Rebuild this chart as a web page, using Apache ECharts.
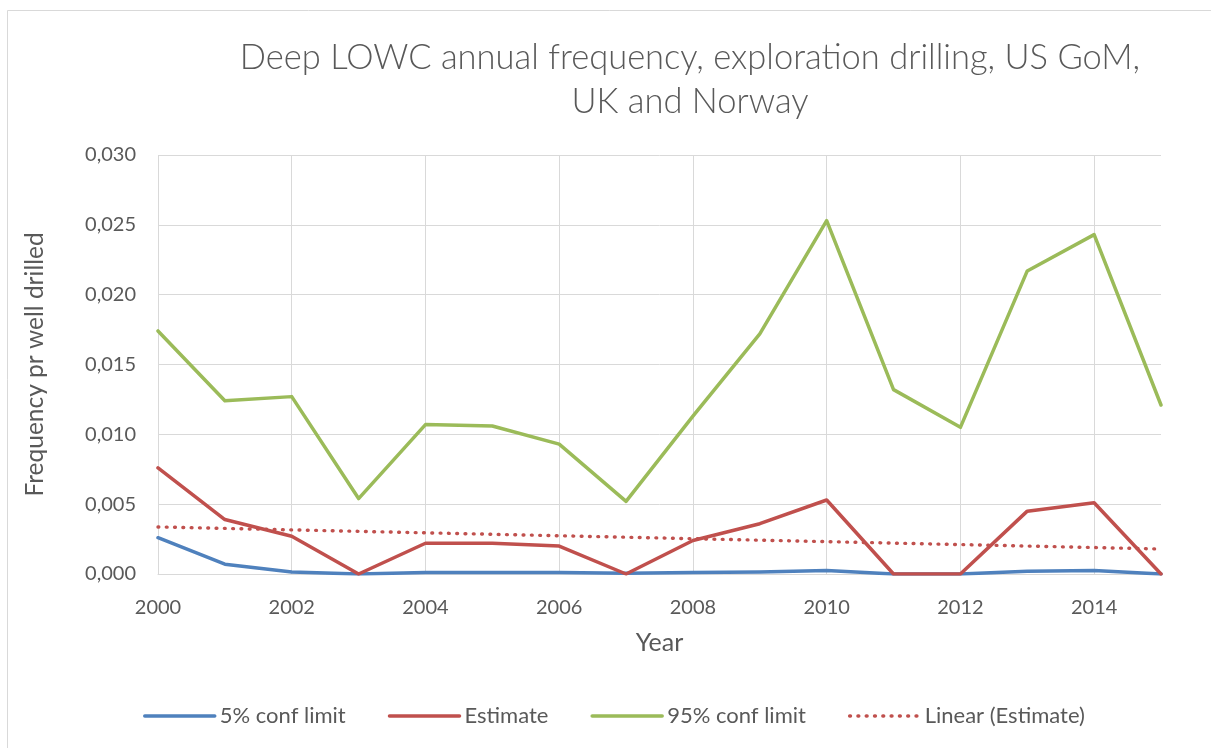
<!DOCTYPE html>
<html>
<head>
<meta charset="utf-8">
<script src="https://cdn.jsdelivr.net/npm/echarts@6/dist/echarts.min.js"></script>
<style>
html,body{margin:0;padding:0;background:#fff;}
#chart{width:1211px;height:748px;}
</style>
</head>
<body>
<div id="chart"></div>
<script>
const years = ['2000','2001','2002','2003','2004','2005','2006','2007','2008','2009','2010','2011','2012','2013','2014','2015'];
const conf5 = [0.0026,0.0007,0.00015,0,0.0001,0.0001,0.0001,0.00005,0.0001,0.00015,0.00025,0,0,0.0002,0.00025,0];
const estimate = [0.0076,0.0039,0.0027,0,0.0022,0.0022,0.0020,0,0.0024,0.0036,0.0053,0,0,0.0045,0.0051,0];
const conf95 = [0.0174,0.0124,0.0127,0.0054,0.0107,0.0106,0.0093,0.0052,0.0113,0.0172,0.0253,0.0132,0.0105,0.0217,0.0243,0.0121];
const trendYears = ['2000','2015'];
const trendValues = [0.00337,0.00179];
const seriesNames = ['5% conf limit','Estimate','95% conf limit','Linear (Estimate)'];
const titleText = 'Deep LOWC annual frequency, exploration drilling, US GoM,\nUK and Norway';

const FONT = 'Lato';
const TXT = '#595959';
const GRID = '#d9d9d9';

const chart = echarts.init(document.getElementById('chart'), null, {renderer:'canvas'});
chart.setOption({
  animation: false,
  backgroundColor: '#fff',
  graphic: [{
    type: 'rect', shape: {x: 7.5, y: 10.5, width: 1400, height: 900},
    style: {fill: 'none', stroke: GRID, lineWidth: 1}, silent: true, z: -10
  }],
  title: {
    text: titleText,
    left: 685, top: 31, textAlign: 'center',
    textStyle: {fontFamily: FONT, fontSize: 34.5, fontWeight: 300, color: TXT, lineHeight: 44}
  },
  legend: {
    left: 143, top: 705, padding: 0,
    itemWidth: 70, itemHeight: 14, itemGap: 42,
    itemStyle: {opacity: 0},
    lineStyle: {width: 3.5},
    textStyle: {fontFamily: FONT, fontSize: 22, color: TXT},
    data: seriesNames
  },
  grid: {left: 158, right: 50, top: 155, bottom: 174, containLabel: false},
  xAxis: {
    type: 'category', data: years, boundaryGap: false,
    name: 'Year', nameLocation: 'middle', nameGap: 56,
    nameTextStyle: {fontFamily: FONT, fontSize: 25, color: TXT},
    axisLine: {lineStyle: {color: GRID, width: 1}},
    axisTick: {show: false},
    axisLabel: {interval: 1, fontFamily: FONT, fontSize: 20, color: TXT, margin: 24},
    splitLine: {show: true, interval: 1, lineStyle: {color: GRID, width: 1}}
  },
  yAxis: {
    type: 'value', min: 0, max: 0.03, interval: 0.005,
    name: 'Frequency pr well drilled', nameLocation: 'middle', nameGap: 110,
    nameTextStyle: {fontFamily: FONT, fontSize: 24.5, color: TXT},
    axisLine: {show: false}, axisTick: {show: false},
    axisLabel: {fontFamily: FONT, fontSize: 20, color: TXT, margin: 22,
      formatter: v => v.toFixed(3).replace('.', ',')},
    splitLine: {lineStyle: {color: GRID, width: 1}}
  },
  series: [
    {name: seriesNames[0], type: 'line', data: conf5, symbol: 'none', color: '#4f81bd',
     lineStyle: {width: 3.5, color: '#4f81bd', cap: 'round', join: 'round'}, z: 3},
    {name: seriesNames[1], type: 'line', data: estimate, symbol: 'none', color: '#c0504d',
     lineStyle: {width: 3.5, color: '#c0504d', cap: 'round', join: 'round'}, z: 4},
    {name: seriesNames[2], type: 'line', data: conf95, symbol: 'none', color: '#9bbb59',
     lineStyle: {width: 3.5, color: '#9bbb59', cap: 'round', join: 'round'}, z: 5},
    {name: seriesNames[3], type: 'line', data: trendYears.map((y, i) => [y, trendValues[i]]),
     symbol: 'none', color: '#c0504d',
     lineStyle: {width: 3.4, color: '#c0504d', type: [0.8, 7.5], cap: 'round'}, z: 6}
  ]
});
</script>
</body>
</html>
